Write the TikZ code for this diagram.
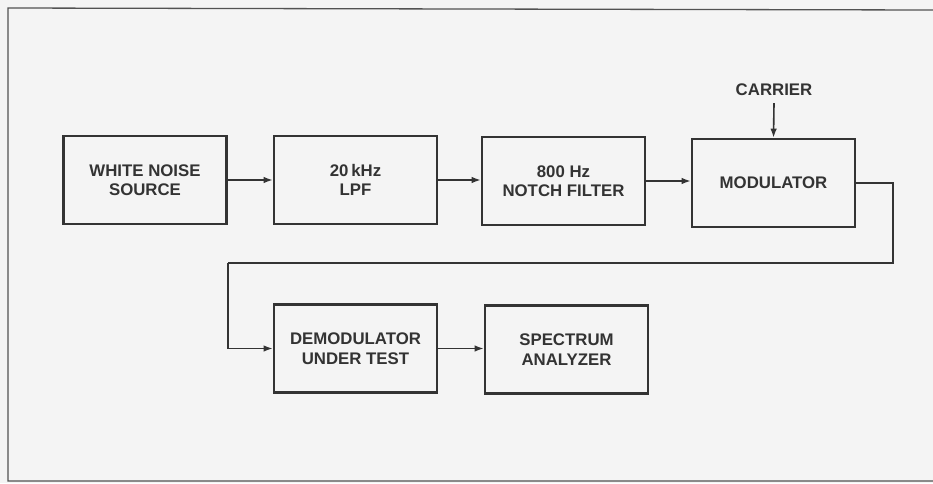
\documentclass[tikz,border=0pt]{standalone}
\usepackage{fontspec}
\setmainfont{Liberation Sans}
\usetikzlibrary{arrows.meta}
\definecolor{ink}{HTML}{333333}
\definecolor{paper}{HTML}{F4F4F4}
\tikzset{
  blk/.style={draw=ink, line width=2.6pt, minimum width=163pt, minimum height=88pt,
    align=center, text=ink, font=\fontsize{16.8}{19.5}\selectfont\bfseries, inner sep=0pt},
  lbl/.style={text=ink, font=\fontsize{16.8}{19.5}\selectfont\bfseries, inner sep=1pt},
  wire/.style={draw=ink, line width=1.6pt},
  arr/.style={wire, -{Latex[length=9pt,width=6.5pt]}},
  frame/.style={draw=ink!85, line width=1.3pt}
}
\begin{document}
\begin{tikzpicture}[x=1pt,y=-1pt]
\fill[paper] (0,0) rectangle (933,483);
\useasboundingbox (0,0) rectangle (933,483);
\draw[frame] (933,10) -- (8,8) -- (8,481) -- (933,481);
\node[blk] (wns) at (145,180) {WHITE NOISE\\SOURCE};
\node[blk] (lpf) at (355.5,180) {20\,kHz\\LPF};
\node[blk] (notch) at (563.5,181) {800 Hz\\NOTCH FILTER};
\node[blk] (mod) at (773.5,183) {MODULATOR};
\node[blk] (demod) at (355.5,348.5) {DEMODULATOR\\UNDER TEST};
\node[blk] (spec) at (566.5,349.5) {SPECTRUM\\ANALYZER};
\node[lbl] (car) at (774,90) {CARRIER};
\coordinate (c1) at (893,263);
\coordinate (c2) at (228,263);
\draw[arr] (wns.east) -- (lpf.west);
\draw[arr] (lpf.east) -- (notch.west |- lpf.east);
\draw[arr] (notch.east) -- (mod.west |- notch.east);
\draw[arr] (car.south) ++(0,6) -- (mod.north);
\draw[wire] (mod.east) -| (c1) -- (c2);
\draw[arr] (c2) |- (demod.west);
\draw[arr] (demod.east) -- (spec.west |- demod.east);
\end{tikzpicture}
\end{document}
